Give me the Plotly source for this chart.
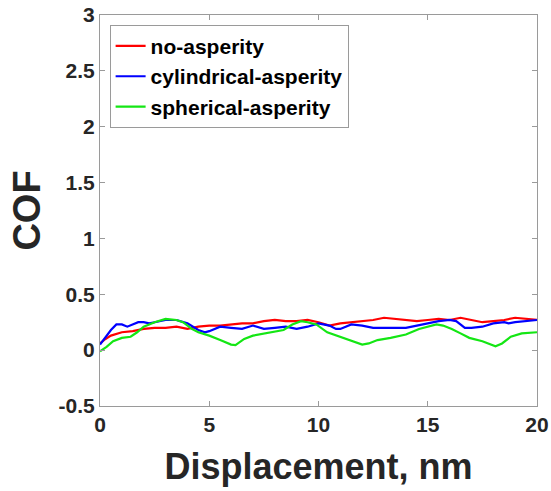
import plotly.graph_objects as go

# Coefficient of friction vs. sliding displacement for three surface types
x_no = [0, 0.25, 0.5, 1.0, 1.5, 2.0, 2.5, 3.0, 3.5, 4.0, 4.5, 5.0, 5.5, 6.0, 6.5, 7.0,
        7.5, 8.0, 8.5, 9.0, 9.5, 10.0, 10.5, 11.0, 11.5, 12.0, 12.5, 13.0, 13.5, 14.0,
        14.5, 15.0, 15.5, 16.0, 16.5, 17.0, 17.5, 18.0, 18.5, 19.0, 19.5, 20.0]
cof_no = [0.06, 0.10, 0.13, 0.16, 0.17, 0.19, 0.20, 0.20, 0.21, 0.19, 0.21, 0.22, 0.22,
          0.23, 0.24, 0.24, 0.26, 0.27, 0.26, 0.26, 0.27, 0.25, 0.22, 0.24, 0.25, 0.26,
          0.27, 0.29, 0.28, 0.27, 0.26, 0.27, 0.28, 0.27, 0.29, 0.27, 0.25, 0.26, 0.27,
          0.29, 0.28, 0.27]

x_cyl = [0, 0.25, 0.5, 0.75, 1.0, 1.25, 1.5, 1.75, 2.0, 2.25, 2.5, 3.0, 3.5, 4.0, 4.5,
         4.8, 5.0, 5.5, 6.0, 6.5, 7.0, 7.5, 8.0, 8.5, 9.0, 9.5, 10.0, 10.5, 10.8, 11.0,
         11.5, 12.0, 12.5, 13.0, 13.5, 14.0, 14.5, 15.0, 15.5, 16.0, 16.3, 16.7, 17.0,
         17.5, 18.0, 18.5, 18.7, 19.0, 19.5, 20.0]
cof_cyl = [0.05, 0.12, 0.18, 0.23, 0.23, 0.21, 0.23, 0.25, 0.25, 0.24, 0.25, 0.27, 0.27,
           0.24, 0.18, 0.16, 0.17, 0.21, 0.20, 0.19, 0.22, 0.19, 0.20, 0.21, 0.19, 0.21,
           0.24, 0.22, 0.19, 0.19, 0.23, 0.22, 0.20, 0.20, 0.20, 0.20, 0.22, 0.24, 0.26,
           0.27, 0.26, 0.20, 0.20, 0.21, 0.24, 0.25, 0.24, 0.25, 0.26, 0.27]

x_sph = [0, 0.3, 0.6, 1.0, 1.4, 1.7, 2.0, 2.5, 3.0, 3.5, 3.8, 4.2, 4.5, 5.0, 5.5, 6.0,
         6.2, 6.6, 7.0, 7.6, 8.0, 8.4, 8.8, 9.2, 9.5, 9.9, 10.4, 11.0, 11.5, 12.0, 12.3,
         12.7, 13.3, 14.0, 14.6, 15.0, 15.4, 15.7, 16.1, 16.5, 16.9, 17.5, 18.1, 18.4,
         18.8, 19.3, 20.0]
cof_sph = [-0.01, 0.03, 0.08, 0.11, 0.12, 0.16, 0.21, 0.25, 0.28, 0.27, 0.25, 0.19, 0.16,
           0.13, 0.09, 0.05, 0.045, 0.10, 0.13, 0.15, 0.17, 0.18, 0.23, 0.26, 0.25, 0.23,
           0.16, 0.12, 0.09, 0.05, 0.06, 0.09, 0.11, 0.14, 0.19, 0.21, 0.23, 0.22, 0.19,
           0.15, 0.11, 0.08, 0.035, 0.06, 0.12, 0.15, 0.16]

series = [
    ("no-asperity", x_no, cof_no, "rgb(255,0,0)"),
    ("cylindrical-asperity", x_cyl, cof_cyl, "rgb(0,0,255)"),
    ("spherical-asperity", x_sph, cof_sph, "rgb(20,230,20)"),
]

x_ticks = [0, 5, 10, 15, 20]
y_ticks = [-0.5, 0, 0.5, 1, 1.5, 2, 2.5, 3]

FONT = "Liberation Sans, Arial, sans-serif"
TXT = "#262626"
FRAME = "#9a9a9a"

fig = go.Figure()
for name, xs, ys, col in series:
    fig.add_trace(go.Scatter(x=xs, y=ys, mode="lines", name=name,
                             line=dict(color=col, width=2.2)))

axis_common = dict(
    showline=True, linecolor=FRAME, linewidth=1, mirror="ticks",
    ticks="inside", ticklen=5, tickcolor=FRAME, showgrid=False, zeroline=False,
    automargin=False,
    tickfont=dict(family=FONT, size=21, color=TXT, weight="bold"),
)

fig.update_layout(
    width=551, height=491,
    margin=dict(l=100, r=14, t=15, b=85),
    paper_bgcolor="white", plot_bgcolor="white",
    xaxis=dict(range=[0, 20], tickvals=x_ticks, ticktext=[str(v) for v in x_ticks],
               title=dict(text="Displacement, nm", standoff=18,
                          font=dict(family=FONT, size=36, color=TXT, weight="bold")),
               **axis_common),
    yaxis=dict(range=[-0.5, 3], tickvals=y_ticks, ticktext=[f"{v:g}" for v in y_ticks],
               title=dict(text="COF", standoff=6,
                          font=dict(family=FONT, size=38, color=TXT, weight="bold")),
               **axis_common),
    legend=dict(x=0.022, y=0.975, xanchor="left", yanchor="top",
                bgcolor="white", bordercolor=FRAME, borderwidth=1,
                font=dict(family=FONT, size=21, color="black", weight="bold"),
                itemwidth=30, tracegroupgap=0),
    showlegend=True,
)

fig.write_html("out.html")
